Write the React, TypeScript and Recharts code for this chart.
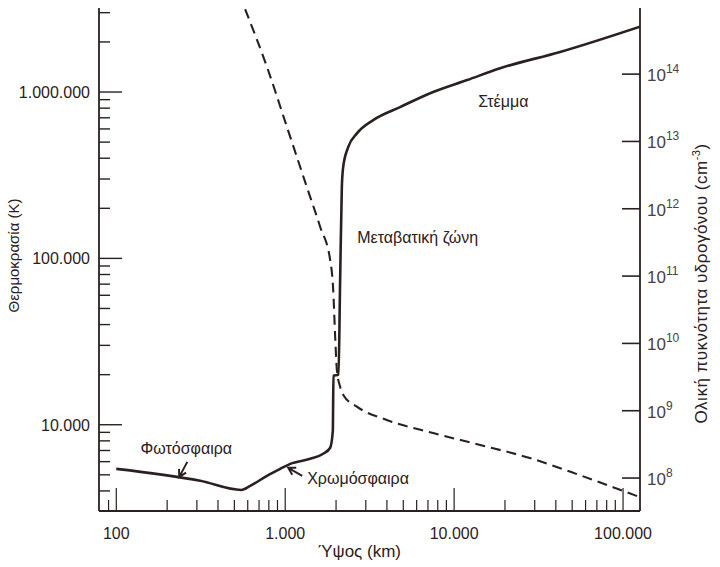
import React from 'react';
import { LineChart, Line, XAxis, YAxis, ReferenceDot, Label } from 'recharts';

// ---- data ----
const heightTempKm = [100, 314, 550, 621, 780, 934, 1071, 1406, 1679, 1846, 1914, 1930, 2067, 2114, 2164, 2203, 2359, 2667, 3318, 4790, 7510, 11940, 18700, 42400, 126000];
const temperatureK = [5430, 4600, 4055, 4290, 4930, 5430, 5820, 6240, 6690, 7270, 9200, 19700, 20000, 73600, 268000, 353000, 466000, 566000, 678000, 812000, 1000000, 1180000, 1390000, 1740000, 2470000];

const heightDensKm = [579, 780, 1023, 1343, 1610, 1846, 1923, 1976, 2023, 2114, 2213, 2655, 3991, 7510, 14260, 28100, 55700, 87300, 121000];
const densityCm3 = [9.2e14, 1.28e14, 1.65e13, 2.1e12, 5.4e11, 1.73e11, 6.3e10, 1.25e10, 4.0e9, 2.27e9, 1.7e9, 1.15e9, 7.3e8, 4.66e8, 3.1e8, 1.98e8, 1.1e8, 7.3e7, 5.4e7];

const xMajorTicks = [100, 1000, 10000, 100000];
const xTickLabels = ['100', '1.000', '10.000', '100.000'];
const xMinorTicks = [90, 200, 300, 400, 500, 600, 700, 800, 900, 2000, 3000, 4000, 5000, 6000, 7000, 8000, 9000, 20000, 30000, 40000, 50000, 60000, 70000, 80000, 90000];

const tMajorTicks = [10000, 100000, 1000000];
const tTickLabels = ['10.000', '100.000', '1.000.000'];
const tMinorTicks = [4000, 5000, 6000, 7000, 8000, 9000, 20000, 30000, 40000, 50000, 60000, 70000, 80000, 90000, 200000, 300000, 400000, 500000, 600000, 700000, 800000, 900000, 2000000, 3000000];

const nTicks = [1e8, 1e9, 1e10, 1e11, 1e12, 1e13, 1e14];
const nTickExponents = ['8', '9', '10', '11', '12', '13', '14'];

const tempData = heightTempKm.map((h, i) => ({ h, T: temperatureK[i] }));
const densData = heightDensKm.map((h, i) => ({ h, n: densityCm3[i] }));

const allXTicks = [...xMinorTicks, ...xMajorTicks].sort((a, b) => a - b);
const allTTicks = [...tMinorTicks, ...tMajorTicks].sort((a, b) => a - b);

const INK = '#2b2020';
const FONT = '"Liberation Sans", Arial, sans-serif';

const BottomTick = (props: any) => {
  const { x, y, payload } = props;
  const idx = xMajorTicks.indexOf(payload.value);
  const major = idx >= 0;
  return (
    <g>
      <line x1={x} x2={x} y1={y} y2={y - (major ? 23 : 11)} stroke={INK} strokeWidth={1.2} />
      {major && (
        <text x={x} y={y + 28} textAnchor="middle" fontSize={16} fontFamily={FONT} fill={INK}>
          {xTickLabels[idx]}
        </text>
      )}
    </g>
  );
};

const TopTick = (props: any) => {
  const { x, y, payload } = props;
  const major = xMajorTicks.indexOf(payload.value) >= 0;
  return <line x1={x} x2={x} y1={y} y2={y + (major ? 20 : 9)} stroke={INK} strokeWidth={1.2} />;
};

const LeftTick = (props: any) => {
  const { x, y, payload } = props;
  const idx = tMajorTicks.indexOf(payload.value);
  const major = idx >= 0;
  return (
    <g>
      <line x1={x} x2={x + (major ? 23 : 11)} y1={y} y2={y} stroke={INK} strokeWidth={1.4} />
      {major && (
        <text x={x - 9} y={y + 6} textAnchor="end" fontSize={16} fontFamily={FONT} fill={INK}>
          {tTickLabels[idx]}
        </text>
      )}
    </g>
  );
};

const RightTick = (props: any) => {
  const { x, y, payload } = props;
  const idx = nTicks.indexOf(payload.value);
  return (
    <g>
      <line x1={x} x2={x - 18} y1={y} y2={y} stroke={INK} strokeWidth={1.6} />
      <text x={x + 7} y={y + 7} fontSize={17} fontFamily={FONT} fill="#4a4040">
        10
        <tspan dy={-8} fontSize={12}>{nTickExponents[idx]}</tspan>
      </text>
    </g>
  );
};

const arrow = (tipX: number, tipY: number, tailX: number, tailY: number) => {
  const dx = tipX - tailX;
  const dy = tipY - tailY;
  const len = Math.sqrt(dx * dx + dy * dy);
  const ux = dx / len;
  const uy = dy / len;
  const a = Math.PI / 6;
  const h = 8;
  const l1x = tipX - h * (ux * Math.cos(a) - uy * Math.sin(a));
  const l1y = tipY - h * (uy * Math.cos(a) + ux * Math.sin(a));
  const l2x = tipX - h * (ux * Math.cos(a) + uy * Math.sin(a));
  const l2y = tipY - h * (uy * Math.cos(a) - ux * Math.sin(a));
  return (
    <path
      d={`M${tailX},${tailY} L${tipX},${tipY} M${l1x},${l1y} L${tipX},${tipY} L${l2x},${l2y}`}
      stroke={INK}
      strokeWidth={2}
      fill="none"
    />
  );
};

const textAt = (label: string) => (p: any) => (
  <text x={p.cx} y={p.cy} dy={6} fontSize={16} fontFamily={FONT} fill={INK}>
    {label}
  </text>
);

export default function App() {
  return (
    <div style={{ position: 'absolute', left: 0, top: 0, background: '#fff' }}>
      <LineChart width={720} height={567} margin={{ top: 8, right: 0, bottom: 0, left: 0 }}>
        <XAxis
          xAxisId="b"
          dataKey="h"
          type="number"
          scale="log"
          domain={[79, 126000]}
          allowDataOverflow
          ticks={allXTicks}
          interval={0}
          tick={<BottomTick />}
          tickLine={false}
          tickSize={0}
          tickMargin={0}
          height={56}
          axisLine={{ stroke: INK, strokeWidth: 1.8 }}
        >
          <Label
            content={(p: any) => {
              const vb = p.viewBox;
              return (
                <text x={vb.x + vb.width / 2 - 10} y={vb.y + 46} textAnchor="middle" fontSize={17} fontFamily={FONT} fill={INK}>
                  Ύψος (km)
                </text>
              );
            }}
          />
        </XAxis>
        <XAxis
          xAxisId="t"
          orientation="top"
          dataKey="h"
          type="number"
          scale="log"
          domain={[79, 126000]}
          allowDataOverflow
          ticks={allXTicks}
          interval={0}
          tick={<TopTick />}
          tickLine={false}
          tickSize={0}
          tickMargin={0}
          height={0}
          axisLine={{ stroke: INK, strokeWidth: 1.8 }}
        />
        <YAxis
          yAxisId="T"
          type="number"
          scale="log"
          domain={[3030, 3200000]}
          allowDataOverflow
          ticks={allTTicks}
          interval={0}
          tick={<LeftTick />}
          tickLine={false}
          tickSize={0}
          tickMargin={0}
          width={99}
          axisLine={{ stroke: INK, strokeWidth: 1.8 }}
        >
          <Label
            content={(p: any) => {
              const vb = p.viewBox;
              const cx = vb.x + 13;
              const cy = vb.y + vb.height / 2 - 4;
              return (
                <text x={cx} y={cy} transform={`rotate(-90 ${cx} ${cy})`} textAnchor="middle" dominantBaseline="central" fontSize={15} fontFamily={FONT} fill={INK}>
                  Θερμοκρασία (K)
                </text>
              );
            }}
          />
        </YAxis>
        <YAxis
          yAxisId="n"
          orientation="right"
          type="number"
          scale="log"
          domain={[3.24e7, 9.6e14]}
          allowDataOverflow
          ticks={nTicks}
          interval={0}
          tick={<RightTick />}
          tickLine={false}
          tickSize={0}
          tickMargin={0}
          width={80}
          axisLine={{ stroke: INK, strokeWidth: 1.8 }}
        >
          <Label
            content={(p: any) => {
              const vb = p.viewBox;
              const cx = vb.x + 61;
              const cy = vb.y + vb.height / 2 + 24;
              return (
                <text x={cx} y={cy} transform={`rotate(-90 ${cx} ${cy})`} textAnchor="middle" dominantBaseline="central" fontSize={17} letterSpacing={0.5} fontFamily={FONT} fill={INK}>
                  Ολική πυκνότητα υδρογόνου (cm
                  <tspan dy={-5} fontSize={11}>-3</tspan>
                  <tspan dy={5}>)</tspan>
                </text>
              );
            }}
          />
        </YAxis>

        <Line
          xAxisId="b"
          yAxisId="n"
          data={densData}
          dataKey="n"
          type="monotone"
          stroke={INK}
          strokeWidth={2.1}
          strokeDasharray="10 6"
          dot={false}
          activeDot={false}
          isAnimationActive={false}
        />
        <Line
          xAxisId="b"
          yAxisId="T"
          data={tempData}
          dataKey="T"
          type="monotone"
          stroke={INK}
          strokeWidth={2.6}
          dot={false}
          activeDot={false}
          isAnimationActive={false}
        />

        <ReferenceDot xAxisId="b" yAxisId="T" x={13870} y={883000} ifOverflow="visible" shape={textAt('Στέμμα')} />
        <ReferenceDot xAxisId="b" yAxisId="T" x={2667} y={134000} ifOverflow="visible" shape={textAt('Μεταβατική ζώνη')} />
        <ReferenceDot xAxisId="b" yAxisId="T" x={139} y={7260} ifOverflow="visible" shape={textAt('Φωτόσφαιρα')} />
        <ReferenceDot xAxisId="b" yAxisId="T" x={1349} y={4800} ifOverflow="visible" shape={textAt('Χρωμόσφαιρα')} />
        <ReferenceDot xAxisId="b" yAxisId="T" x={236} y={4860} ifOverflow="visible" shape={(p: any) => arrow(p.cx, p.cy, p.cx + 8, p.cy - 15)} />
        <ReferenceDot xAxisId="b" yAxisId="T" x={1042} y={5510} ifOverflow="visible" shape={(p: any) => arrow(p.cx, p.cy, p.cx + 14, p.cy + 8)} />
      </LineChart>
    </div>
  );
}
